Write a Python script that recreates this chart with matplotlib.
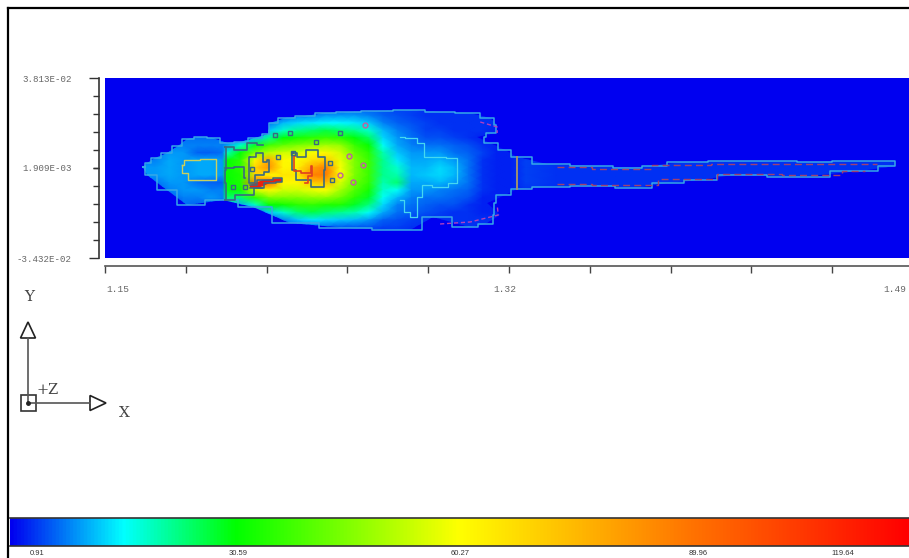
import numpy as np
import matplotlib
matplotlib.use('Agg')
import matplotlib.pyplot as plt
from matplotlib.colors import LinearSegmentedColormap
from matplotlib.patches import Polygon

# field samples, x stations and y stations (y in units of 1e-2)
x_stations = [1.15, 1.165, 1.171, 1.177, 1.183, 1.189, 1.195, 1.1995, 1.201, 1.207, 1.213, 1.219, 1.225,
              1.231, 1.237, 1.243, 1.249, 1.255, 1.261, 1.267, 1.273, 1.279, 1.285, 1.291, 1.297,
              1.303, 1.309, 1.315, 1.321, 1.327, 1.34, 1.37, 1.40, 1.43, 1.46, 1.48, 1.4925]
y_stations = [3.813, 2.6, 2.3, 2.0, 1.7, 1.4, 1.1, 0.8, 0.5, 0.2, -0.1, -0.4, -0.7, -1.0, -1.3,
              -1.6, -1.9, -2.2, -2.5, -3.432]

# one list per x station, top to bottom
head_values = [
    [1, 1, 1, 1, 1, 1, 5, 8, 9, 9, 7, 1, 1, 1, 1, 1, 1, 1],
    [1, 1, 1, 1, 1, 5, 7, 8, 9, 9, 7, 5, 1, 1, 1, 1, 1, 1],
    [1, 1, 1, 1, 6, 8, 9, 10, 10, 10, 9, 8, 6, 1, 1, 1, 1, 1],
    [1, 1, 1, 6, 7, 8, 9, 9, 9, 9, 9, 9, 8, 7, 1, 1, 1, 1],
    [1, 1, 1, 6, 7, 8, 6, 10, 10, 10, 7, 9, 8, 6, 5, 1, 1, 1],
    [1, 1, 1, 6, 7, 8, 6, 10, 10, 10, 6, 8, 9, 6, 5, 1, 1, 1],
    [1, 1, 1, 6, 7, 8, 7, 9, 9, 9, 6, 8, 8, 6, 5, 1, 1, 1],
]
chest_values = [
    [1, 1, 1, 6, 7, 9, 18, 30, 31, 31, 30, 29, 24, 12, 5, 1, 1, 1],
    [1, 1, 1, 6, 9, 18, 30, 35, 35, 34, 34, 32, 24, 10, 4, 1, 1, 1],
    [1, 1, 5, 8, 12, 28, 45, 62, 70, 70, 90, 55, 35, 18, 6, 1, 1, 1],
    [1, 4, 7, 12, 22, 38, 52, 80, 85, 62, 95, 62, 45, 30, 12, 5, 1, 1],
    [4, 6, 11, 18, 30, 42, 55, 62, 62, 66, 62, 55, 45, 32, 18, 8, 4, 1],
    [5, 8, 13, 22, 33, 45, 55, 60, 64, 66, 62, 55, 45, 35, 24, 12, 5, 1],
    [6, 8, 14, 24, 35, 47, 60, 68, 80, 88, 72, 58, 47, 36, 26, 14, 6, 4],
    [6, 9, 15, 26, 37, 50, 62, 72, 90, 90, 76, 60, 47, 34, 24, 13, 6, 4],
    [6, 9, 15, 24, 35, 48, 55, 58, 60, 60, 56, 50, 43, 34, 22, 12, 5, 4],
    [6, 9, 14, 22, 30, 37, 42, 45, 45, 45, 43, 40, 35, 28, 20, 11, 5, 4],
    [6, 8, 12, 18, 25, 31, 35, 37, 37, 37, 36, 33, 28, 23, 16, 9, 5, 4],
]
rear_values = [
    [5, 6, 8, 11, 13, 16, 20, 22, 22, 22, 20, 18, 16, 13, 10, 6, 4, 3],
    [4, 5, 6, 8, 9, 10, 12, 14, 18, 20, 24, 16, 11, 8, 7, 5, 4, 3],
    [4, 4, 5, 6, 7, 8, 9, 10, 11, 11, 10, 9, 8, 7, 6, 4, 3, 3],
    [3, 3, 4, 4, 5, 7, 9, 10, 11, 12, 10, 9, 7, 6, 5, 3, 3, 3],
    [3, 3, 3, 4, 5, 7, 9, 11, 13, 13, 11, 8, 7, 5, 4, 3, 3, 3],
    [3, 3, 3, 3, 4, 6, 7, 9, 11, 11, 9, 7, 6, 5, 3, 3, 3, 3],
    [3, 3, 3, 3, 3, 5, 6, 7, 7, 7, 7, 6, 5, 3, 3, 3, 3, 3],
    [3, 3, 3, 3, 2, 3, 4, 3, 3, 3, 3, 3, 2, 2, 2, 3, 3, 3],
    [3, 3, 3, 2, 2, 2, 2, 2, 2, 2, 2, 2, 2, 2, 2, 3, 3, 3],
    [1, 1, 2, 2, 2, 2, 2, 2, 2, 2, 2, 2, 2, 2, 2, 2, 1, 1],
]
tail_values = [
    [1, 1, 1, 1, 1, 1, 3, 4, 4, 4, 4, 3, 1, 1, 1, 1, 1, 1],
    [1, 1, 1, 1, 1, 1, 3, 3, 3, 3, 3, 3, 1, 1, 1, 1, 1, 1],
    [1, 1, 1, 1, 1, 1, 3, 3, 3, 3, 3, 3, 1, 1, 1, 1, 1, 1],
    [1, 1, 1, 1, 1, 1, 3, 3, 3, 3, 3, 3, 1, 1, 1, 1, 1, 1],
    [1, 1, 1, 1, 1, 1, 3, 3, 3, 3, 3, 3, 1, 1, 1, 1, 1, 1],
    [1, 1, 1, 1, 1, 1, 3, 3, 3, 3, 3, 3, 1, 1, 1, 1, 1, 1],
    [1, 1, 1, 1, 1, 1, 3, 3, 3, 3, 3, 3, 1, 1, 1, 1, 1, 1],
]

# traced contour lines
outline_x = [1.1660, 1.1677, 1.1710, 1.1761, 1.1807, 1.1845, 1.1900, 1.1955, 1.2014, 1.2068, 1.2132,
             1.2186, 1.2195, 1.2258, 1.2342, 1.2426, 1.2519, 1.2637, 1.2784, 1.2910, 1.3037, 1.3121,
             1.3150, 1.3142, 1.3066, 1.3121, 1.3184, 1.3235, 1.3361, 1.3554, 1.3723, 1.3794, 1.3933,
             1.4144, 1.4384, 1.4439, 1.4679, 1.4826, 1.4826, 1.4679, 1.4426, 1.4144, 1.4005, 1.3866,
             1.3740, 1.3554, 1.3361, 1.3235, 1.3184, 1.3108, 1.3163, 1.3100, 1.3037, 1.2881, 1.2784,
             1.2729, 1.2519, 1.2279, 1.2123, 1.1997, 1.1845, 1.1761, 1.1677, 1.1660]
outline_y = [0.231, 0.392, 0.594, 0.795, 1.077, 1.358, 1.439, 1.399, 1.197, 1.238, 1.399,
             1.559, 2.002, 2.204, 2.284, 2.405, 2.445, 2.485, 2.526, 2.445, 2.405, 2.204,
             1.922, 1.600, 1.439, 1.197, 0.916, 0.634, 0.352, 0.271, 0.191, 0.271, 0.432,
             0.473, 0.473, 0.432, 0.473, 0.473, 0.271, 0.070, -0.171, -0.091, -0.292, -0.413,
             -0.614, -0.534, -0.574, -0.654, -0.896, -1.218, -1.701, -2.063, -2.184, -1.781, -2.305,
             -2.305, -2.224, -2.023, -1.379, -1.097, -1.298, -0.695, -0.091, 0.231]
head_loop_x = [1.1824, 1.1837, 1.1963, 1.1972, 1.1870, 1.1828, 1.1824]
head_loop_y = [0.312, 0.513, 0.553, -0.292, -0.292, -0.010, 0.312]
red_loop_x = [1.2301, 1.2292, 1.2355, 1.2376, 1.2363, 1.2342]
red_loop_y = [0.674, 0.070, -0.010, 0.271, -0.130, -0.413]
red_blob_x = [1.2110, 1.2165, 1.2245, 1.2245, 1.2195, 1.2144, 1.2110]
red_blob_y = [-0.493, -0.292, -0.211, -0.372, -0.413, -0.614, -0.614]
patch_c_x = [1.2110, 1.2161, 1.2165, 1.2195, 1.2186, 1.2153, 1.2110, 1.2098, 1.2110]
patch_c_y = [0.634, 0.795, 0.432, 0.513, 0.030, -0.091, -0.413, 0.030, 0.634]
patch_e_x = [1.2291, 1.2279, 1.2329, 1.2405, 1.2435, 1.2418, 1.2371, 1.2321, 1.2291]
patch_e_y = [0.795, 0.110, -0.292, -0.574, 0.110, 0.634, 0.916, 0.634, 0.795]
head_edge_x = [1.2005, 1.2014, 1.2005, 1.2005, 1.2014, 1.2005]
head_edge_y = [1.036, 0.500, 0.100, -0.400, -0.800, -1.097]
branch_x = [1.2005, 1.2081, 1.2089]
branch_y = [0.191, 0.231, -0.211]
chest_top_x = [1.2005, 1.2081, 1.2110, 1.2165]
chest_top_y = [1.036, 0.916, 1.197, 1.117]
chest_low_x = [1.2005, 1.2089, 1.2161]
chest_low_y = [-1.097, -0.896, -0.614]
dark_x = [1.2119, 1.2228, 1.2291, 1.2447, 1.2456, 1.2388, 1.2489, 1.2039, 1.2089, 1.2216, 1.2279]
dark_y = [0.151, 0.634, 0.795, 0.392, -0.292, 1.238, 1.600, -0.574, -0.574, 1.519, 1.600]
rear_loop_x = [1.2742, 1.2784, 1.2839, 1.2847, 1.2898, 1.2974, 1.2986, 1.2974, 1.2910, 1.2839, 1.2826,
               1.2797, 1.2771, 1.2742]
rear_loop_y = [1.439, 1.399, 1.197, 0.634, 0.634, 0.594, 0.030, -0.413, -0.574, -0.493, -0.976,
               -1.781, -1.600, -1.097]
pink_x = [1.2527, 1.2489, 1.2544, 1.2586, 1.2595]
pink_y = [0.674, -0.091, -0.372, 0.312, 1.922]
rear_top_x = [1.3079, 1.3150, 1.3150]
rear_top_y = [2.042, 1.841, 1.600]
rear_low_x = [1.2910, 1.3037, 1.3155, 1.3150]
rear_low_y = [-2.063, -1.982, -1.701, -1.298]
tail_start_x = [1.3235, 1.3235]
tail_start_y = [0.634, -0.654]
tail_top_x = [1.3400, 1.3700, 1.3900, 1.4200, 1.4500, 1.4750]
tail_top_y = [0.230, 0.150, 0.300, 0.350, 0.350, 0.350]
tail_low_x = [1.3400, 1.3700, 1.3950, 1.4200, 1.4500, 1.4700]
tail_low_y = [-0.450, -0.500, -0.250, -0.050, -0.100, 0.050]

# axis and colour bar labels
x_ticks = [1.15, 1.184, 1.218, 1.252, 1.286, 1.32, 1.354, 1.388, 1.422, 1.456, 1.49]
y_top = 3.813e-2
y_mid = 1.909e-3
y_bottom = -3.432e-2
bar_labels = ['0.91', '30.59', '60.27', '89.96', '119.64']
bar_label_px = [37, 238, 460, 698, 843]

cmap = LinearSegmentedColormap.from_list('field', [
    (0.0, (0, 0, 0.94)), (0.125, (0, 1, 1)), (0.25, (0, 1, 0)), (0.5, (1, 1, 0)),
    (0.76, (1, 0.45, 0)), (1.0, (1, 0, 0))])


def to_y(vals):
    return np.array(vals) * 1e-2


values = np.array(head_values + chest_values + rear_values + tail_values, dtype=float).T
values = np.pad(values, 1, constant_values=1)
xs = np.array(x_stations)
ys = np.array(y_stations) * 1e-2

fig = plt.figure(figsize=(9.09, 5.58), dpi=100, facecolor='white')
W, H = 909.0, 558.0

# main field, the right end runs past the figure edge as in the original
ax = fig.add_axes([105 / W, 1 - 258 / H, 808 / W, 180 / H], facecolor=(0, 0, 0.94))
mesh = ax.pcolormesh(xs, ys, values, cmap=cmap, vmin=0, vmax=121, shading='gouraud')
body = Polygon(np.column_stack([outline_x, to_y(outline_y)]), closed=True, transform=ax.transData)
mesh.set_clip_path(body)

ax.plot(outline_x, to_y(outline_y), color='#35a8e8', lw=1.1, drawstyle='steps-mid')
ax.plot(rear_loop_x, to_y(rear_loop_y), color='#45d8f0', lw=0.9, drawstyle='steps-mid')
ax.plot(head_loop_x, to_y(head_loop_y), color='#c8d060', lw=1.0, drawstyle='steps-mid')
for lx, ly in [(head_edge_x, head_edge_y), (branch_x, branch_y), (chest_top_x, chest_top_y),
               (chest_low_x, chest_low_y), (patch_c_x, patch_c_y), (patch_e_x, patch_e_y)]:
    ax.plot(lx, to_y(ly), color='#3a6a80', lw=1.2, drawstyle='steps-mid')
ax.fill(red_blob_x, to_y(red_blob_y), color='#e82010', lw=0)
ax.plot(red_blob_x, to_y(red_blob_y), color='#3a6a80', lw=1.1, drawstyle='steps-mid')
ax.plot(red_loop_x, to_y(red_loop_y), color='#e04020', lw=1.2, drawstyle='steps-mid')
ax.plot(dark_x, to_y(dark_y), ls='none', marker='s', ms=3, mfc='none', mec='#3a6a80', mew=1)
ax.plot(pink_x, to_y(pink_y), ls='none', marker='o', ms=3.5, mfc='none', mec='#c060a0', mew=1)
ax.plot(rear_top_x, to_y(rear_top_y), color='#b040c0', lw=1, ls=(0, (3, 2)))
ax.plot(rear_low_x, to_y(rear_low_y), color='#b040c0', lw=1, ls=(0, (3, 2)))
ax.plot(tail_start_x, to_y(tail_start_y), color='#a09070', lw=1.4)
ax.plot(tail_top_x, to_y(tail_top_y), color='#a04070', lw=1, ls=(0, (5, 3)), drawstyle='steps-mid')
ax.plot(tail_low_x, to_y(tail_low_y), color='#a04070', lw=1, ls=(0, (5, 3)), drawstyle='steps-mid')
ax.set_xlim(1.15, 1.49)
ax.set_ylim(y_bottom, y_top)

for side in ['top', 'right']:
    ax.spines[side].set_visible(False)
ax.spines['left'].set_position(('outward', 4))
ax.spines['bottom'].set_position(('outward', 6))
ax.spines['left'].set_color('#333333')
ax.spines['bottom'].set_color('#555555')
ax.spines['left'].set_linewidth(1.2)
ax.spines['bottom'].set_linewidth(1.2)

ax.set_yticks([y_bottom, y_mid, y_top])
ax.set_yticklabels(['-3.432E-02', '1.909E-03', '3.813E-02'], family='Liberation Mono', fontsize=6.6, color='#666666')
ax.set_yticks(np.linspace(y_bottom, y_top, 11), minor=True)
ax.tick_params(axis='y', which='major', length=7, width=1, color='#333333', pad=13)
ax.tick_params(axis='y', which='minor', length=4, width=1, color='#333333')
ax.yaxis.get_major_ticks()[1].tick1line.set_markersize(4)

ax.set_xticks(x_ticks, labels=[])
ax.tick_params(axis='x', which='major', length=5, width=1, color='#444444', direction='out')
ax.annotate('1.15', xy=(1.15, 0), xycoords=('data', 'axes fraction'), xytext=(1, -23), textcoords='offset points',
            family='Liberation Mono', fontsize=6.8, color='#666666', ha='left', va='center')
ax.annotate('1.32', xy=(1.32, 0), xycoords=('data', 'axes fraction'), xytext=(-3, -23), textcoords='offset points',
            family='Liberation Mono', fontsize=6.8, color='#666666', ha='center', va='center')
ax.annotate('1.49', xy=(1.49, 0), xycoords=('data', 'axes fraction'), xytext=(-5, -23), textcoords='offset points',
            family='Liberation Mono', fontsize=6.8, color='#666666', ha='right', va='center', annotation_clip=False)

# colour bar
cax = fig.add_axes([10 / W, 1 - 546 / H, 899 / W, 28 / H])
cax.imshow(np.linspace(0, 1, 512).reshape(1, -1), cmap=cmap, aspect='auto', extent=[10, 909, 0, 1])
cax.set_xticks([])
cax.set_yticks([])
for side in ['left', 'right']:
    cax.spines[side].set_visible(False)
for side in ['top', 'bottom']:
    cax.spines[side].set_color('#333333')
    cax.spines[side].set_linewidth(1.2)

# overlay in pixel units: frame, triad and labels
over = fig.add_axes([0, 0, 1, 1], facecolor='none')
over.set_xlim(0, W)
over.set_ylim(H, 0)
over.axis('off')
over.plot([8, 8], [558, 8], color='black', lw=1.6)
over.plot([8, 909], [8, 8], color='black', lw=1.6)

for name, px in zip(bar_labels, bar_label_px):
    over.text(px, 553.5, name, family='Liberation Sans', fontsize=5.5, color='#333333', ha='center', va='center')

over.plot([28, 28], [403, 338], color='#555555', lw=1.2)
over.plot([28, 90], [403, 403], color='#555555', lw=1.2)
over.fill([20.5, 35.5, 28, 20.5], [338, 338, 322, 338], fc='white', ec='#222222', lw=1.2)
over.fill([90, 90, 106, 90], [395.5, 410.5, 403, 395.5], fc='white', ec='#222222', lw=1.2)
over.fill([21, 36, 36, 21, 21], [395, 395, 411, 411, 395], fc='none', ec='#333333', lw=1.2)
over.plot([28], [403], marker='o', ms=2.5, color='#222222')
over.text(29, 297, 'Y', family='DejaVu Serif', fontsize=11, color='#444444', ha='center', va='center')
over.text(124, 413, 'X', family='DejaVu Serif', fontsize=11, color='#444444', ha='center', va='center')
over.text(48, 390, '+Z', family='DejaVu Serif', fontsize=10.5, color='#444444', ha='center', va='center')

fig.savefig('out.png', dpi=100)
